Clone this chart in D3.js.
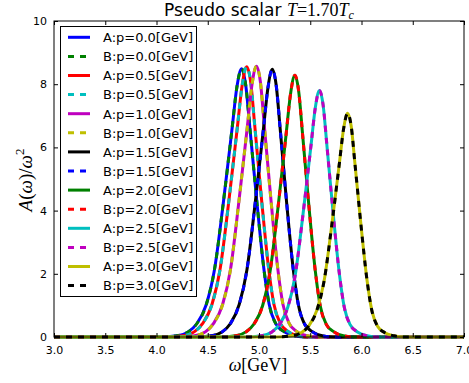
<!DOCTYPE html>
<html>
<head>
<meta charset="utf-8">
<script src="https://cdn.jsdelivr.net/npm/d3@7"></script>
<style>
  body { margin: 0; background: #fff; }
  svg text { fill: #000; }
</style>
</head>
<body>
<div id="chart"></div>
<script>
// momentum values of the curves (GeV)
const momenta = ["0.0", "0.5", "1.0", "1.5", "2.0", "2.5", "3.0"];

// spectral function A(w)/w^2, [omega, value] pairs
const spec00 = [[3.0,0],[4.025,0],[4.197,0.04],[4.312,0.17],[4.393,0.42],[4.485,1.02],[4.565,2.12],[4.652,4.25],[4.738,6.62],[4.784,7.90],[4.83,8.49],[4.870,7.98],[4.911,6.62],[4.980,4.25],[5.049,2.12],[5.100,1.02],[5.164,0.42],[5.244,0.17],[5.348,0.04],[5.463,0],[7.0,0]];
const spec05 = [[3.0,0],[4.089,0],[4.258,0.04],[4.371,0.17],[4.451,0.43],[4.541,1.03],[4.620,2.14],[4.705,4.28],[4.790,6.67],[4.835,7.95],[4.88,8.55],[4.920,8.04],[4.959,6.67],[5.027,4.28],[5.095,2.14],[5.146,1.03],[5.208,0.43],[5.287,0.17],[5.389,0.04],[5.502,0],[7.0,0]];
const spec10 = [[3.0,0],[4.205,0],[4.370,0.04],[4.480,0.17],[4.557,0.43],[4.645,1.03],[4.722,2.14],[4.804,4.29],[4.887,6.68],[4.931,7.97],[4.975,8.57],[5.014,8.06],[5.052,6.68],[5.118,4.29],[5.184,2.14],[5.234,1.03],[5.294,0.43],[5.371,0.17],[5.470,0.04],[5.580,0],[7.0,0]];
const spec15 = [[3.0,0],[4.374,0],[4.536,0.04],[4.644,0.17],[4.720,0.42],[4.806,1.02],[4.882,2.12],[4.963,4.24],[5.044,6.61],[5.087,7.88],[5.13,8.47],[5.168,7.96],[5.206,6.61],[5.270,4.24],[5.335,2.12],[5.384,1.02],[5.443,0.42],[5.519,0.17],[5.616,0.04],[5.724,0],[7.0,0]];
const spec20 = [[3.0,0],[4.615,0],[4.772,0.04],[4.877,0.17],[4.951,0.41],[5.035,0.99],[5.108,2.07],[5.187,4.14],[5.266,6.46],[5.308,7.70],[5.35,8.28],[5.387,7.78],[5.424,6.46],[5.487,4.14],[5.550,2.07],[5.597,0.99],[5.655,0.41],[5.728,0.17],[5.823,0.04],[5.928,0],[7.0,0]];
const spec25 = [[3.0,0],[4.869,0],[5.023,0.04],[5.126,0.16],[5.199,0.39],[5.281,0.94],[5.353,1.95],[5.430,3.90],[5.508,6.08],[5.549,7.25],[5.59,7.80],[5.626,7.33],[5.662,6.08],[5.724,3.90],[5.786,1.95],[5.832,0.94],[5.889,0.39],[5.961,0.16],[6.054,0.04],[6.157,0],[7.0,0]];
const spec30 = [[3.0,0],[5.165,0],[5.315,0.04],[5.415,0.14],[5.485,0.35],[5.565,0.85],[5.635,1.77],[5.71,3.54],[5.785,5.52],[5.825,6.58],[5.865,7.08],[5.90,6.66],[5.935,5.52],[5.995,3.54],[6.055,1.77],[6.10,0.85],[6.155,0.35],[6.225,0.14],[6.315,0.04],[6.415,0],[7.0,0]];
const specs = [spec00, spec05, spec10, spec15, spec20, spec25, spec30];

// A is solid, B is dashed on top (same values)
const colorsA = ["#0000ff", "#ff0000", "#bf00bf", "#000000", "#008000", "#00bfbf", "#bfbf00"];
const colorsB = ["#008000", "#00bfbf", "#bfbf00", "#0000ff", "#ff0000", "#bf00bf", "#000000"];

const xTicks = [3.0, 3.5, 4.0, 4.5, 5.0, 5.5, 6.0, 6.5, 7.0];
const yTicks = [0, 2, 4, 6, 8, 10];

const W = 469, H = 383;
const plot = {left: 54, right: 464, top: 21, bottom: 337};
const serif = "'Liberation Serif', 'DejaVu Serif', serif";
const sans = "'DejaVu Sans', sans-serif";

const svg = d3.select("#chart").append("svg")
    .attr("width", W)
    .attr("height", H);

const x = d3.scaleLinear().domain([3, 7]).range([plot.left, plot.right]);
const y = d3.scaleLinear().domain([0, 10]).range([plot.bottom, plot.top]);

const line = d3.line()
    .x(d => x(d[0]))
    .y(d => y(d[1]))
    .curve(d3.curveMonotoneX);

// curves
const curvesG = svg.append("g");
specs.forEach((s, i) => {
    curvesG.append("path")
        .attr("d", line(s))
        .attr("fill", "none")
        .attr("stroke", colorsA[i])
        .attr("stroke-width", 3);
    curvesG.append("path")
        .attr("d", line(s))
        .attr("fill", "none")
        .attr("stroke", colorsB[i])
        .attr("stroke-width", 3)
        .attr("stroke-dasharray", "6,6");
});

// frame
svg.append("rect")
    .attr("x", plot.left).attr("y", plot.top)
    .attr("width", plot.right - plot.left)
    .attr("height", plot.bottom - plot.top)
    .attr("fill", "none")
    .attr("stroke", "#000")
    .attr("stroke-width", 1);

// axes with inward ticks
const fmtX = d3.format(".1f");
const axB = svg.append("g")
    .attr("transform", `translate(0,${plot.bottom})`)
    .call(d3.axisBottom(x).tickValues(xTicks).tickFormat(fmtX).tickSizeInner(-4).tickSizeOuter(0).tickPadding(9));
const axT = svg.append("g")
    .attr("transform", `translate(0,${plot.top})`)
    .call(d3.axisTop(x).tickValues(xTicks).tickFormat("").tickSizeInner(-4).tickSizeOuter(0));
const axL = svg.append("g")
    .attr("transform", `translate(${plot.left},0)`)
    .call(d3.axisLeft(y).tickValues(yTicks).tickSizeInner(-4).tickSizeOuter(0).tickPadding(7));
const axR = svg.append("g")
    .attr("transform", `translate(${plot.right},0)`)
    .call(d3.axisRight(y).tickValues(yTicks).tickFormat("").tickSizeInner(-4).tickSizeOuter(0));

[axB, axT, axL, axR].forEach(a => {
    a.select(".domain").remove();
    a.selectAll("line").attr("stroke", "#000");
    a.selectAll("text")
        .style("font-family", sans)
        .style("font-size", "11px")
        .attr("fill", "#000");
});

// title
const title = svg.append("text")
    .attr("x", 259)
    .attr("y", 16)
    .attr("text-anchor", "middle")
    .style("font-size", "17px");
title.append("tspan").style("font-family", sans).text("Pseudo scalar ");
title.append("tspan").style("font-family", serif).style("font-style", "italic").style("font-size", "18px").text("T");
title.append("tspan").style("font-family", serif).style("font-size", "18px").text("=1.70");
title.append("tspan").style("font-family", serif).style("font-style", "italic").style("font-size", "18px").text("T");
title.append("tspan").style("font-family", serif).style("font-style", "italic").style("font-size", "12px")
    .attr("dy", 3).text("c");

// x label
const xl = svg.append("text")
    .attr("x", 258)
    .attr("y", 371)
    .attr("text-anchor", "middle")
    .style("font-family", serif)
    .style("font-size", "18px");
xl.append("tspan").style("font-style", "italic").text("ω");
xl.append("tspan").text("[GeV]");

// y label
const yl = svg.append("text")
    .attr("transform", "translate(32,180) rotate(-90)")
    .attr("text-anchor", "middle")
    .style("font-family", serif)
    .style("font-size", "19px");
yl.append("tspan").style("font-style", "italic").text("A");
yl.append("tspan").text("(");
yl.append("tspan").style("font-style", "italic").text("ω");
yl.append("tspan").text(")/");
yl.append("tspan").style("font-style", "italic").text("ω");
yl.append("tspan").style("font-size", "13px").attr("dy", -8).text("2");

// legend
const legend = svg.append("g");
legend.append("rect")
    .attr("x", 60.5).attr("y", 26.5)
    .attr("width", 136).attr("height", 270)
    .attr("fill", "#fff")
    .attr("stroke", "#000")
    .attr("stroke-width", 1);

const entries = [];
momenta.forEach((p, i) => {
    entries.push({label: `A:p=${p}[GeV]`, color: colorsA[i], dash: null});
    entries.push({label: `B:p=${p}[GeV]`, color: colorsB[i], dash: "6,6"});
});

entries.forEach((e, i) => {
    const ly = 37.3 + i * 19.1;
    legend.append("line")
        .attr("x1", 68).attr("x2", 90)
        .attr("y1", ly).attr("y2", ly)
        .attr("stroke", e.color)
        .attr("stroke-width", 3)
        .attr("stroke-dasharray", e.dash);
    legend.append("text")
        .attr("x", 103)
        .attr("y", ly + 4.8)
        .style("font-family", sans)
        .style("font-size", "13px")
        .text(e.label);
});
</script>
</body>
</html>
